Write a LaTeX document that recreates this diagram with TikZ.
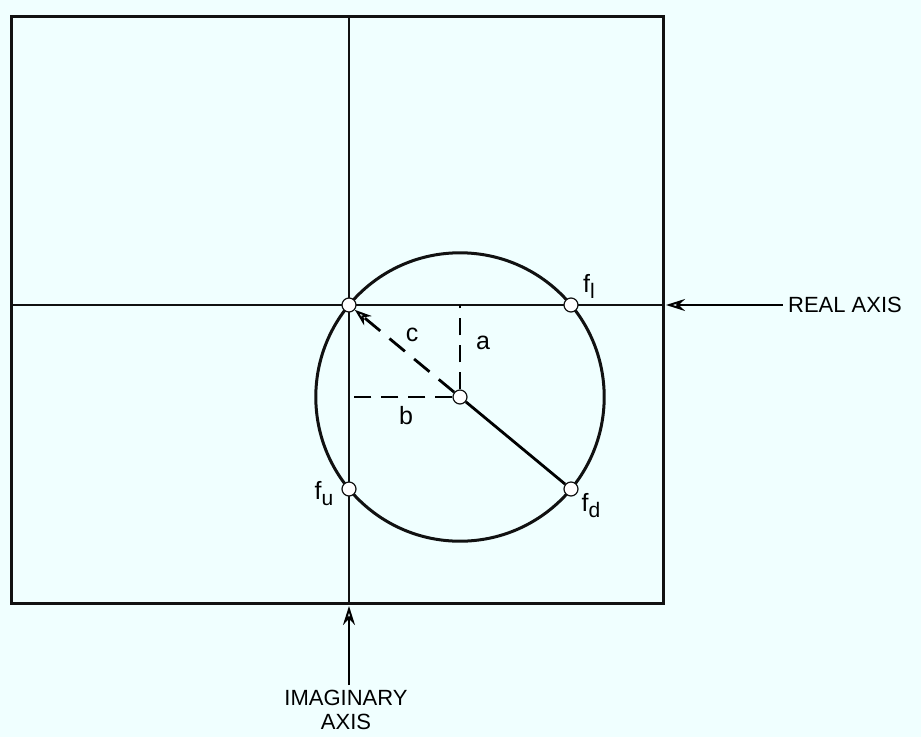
\documentclass[tikz,border=0pt]{standalone}
\usepackage{fontspec}
\setmainfont{Liberation Sans}
\usepackage{xcolor}
\usepackage{tikz}
\usetikzlibrary{
  arrows.meta,
  positioning,
  calc
}
\definecolor{PaperCyan}{HTML}{F0FFFF}
\definecolor{InkBlack}{HTML}{111111}
\newcommand{\lowsub}[1]{\raisebox{-6pt}{\fontsize{21}{23}\selectfont #1}}
\tikzset{
  frame/.style={
    draw=InkBlack,
    line width=3pt
  },
  axisline/.style={
    draw=InkBlack,
    line width=2.8pt
  },
  locus/.style={
    draw=InkBlack,
    line width=3pt
  },
  point/.style={
    circle,
    draw=InkBlack,
    fill=white,
    line width=1.2pt,
    inner sep=0pt,
    minimum size=14pt
  },
  tag/.style={
    font=\fontsize{25}{28}\selectfont,
    inner sep=1pt
  },
  axislabel/.style={
    font=\fontsize{22}{24}\selectfont,
    align=center,
    inner sep=5pt
  },
  axisarrow/.style={
    -{Stealth[open,length=19pt,width=12pt,line width=2pt]},
    line width=2.8pt
  },
  offset/.style={
    dash pattern=on 17pt off 10pt,
    line width=2.8pt
  },
  radiusline/.style={
    -{Stealth[open,length=17pt,width=12pt,line width=2pt]},
    dash pattern=on 20pt off 12pt,
    line width=2.8pt
  },
  diameter/.style={
    line width=2.8pt
  }
}

\begin{document}
\begin{tikzpicture}[x=1pt,y=-1pt]

  % paper
  \fill[PaperCyan] (0,0) rectangle (921,737);
  \useasboundingbox (0,0) rectangle (921,737);

  \coordinate (origin) at (349,305);
  \coordinate (centre) at (460,397);

  % plane and axes
  \draw[frame] (11,16) rectangle (663,603);
  \draw[axisline] (11,305) -- (663,305);
  \draw[axisline] (349,16) -- (349,603);

  % circle through the origin
  \draw[locus] (centre) circle[radius=144.2pt];

  \node[point] at (origin) (o) {};
  \node[point] at (centre) (c) {};
  \node[point] at (571,305) (fl) {};
  \node[point] at (349,489) (fu) {};
  \node[point] at (571,489) (fd) {};

  \node[tag] at (589,286) (lfl) {f\lowsub{l}};
  \node[tag] at (324,494) (lfu) {f\lowsub{u}};
  \node[tag] at (591,506) (lfd) {f\lowsub{d}};
  \node[tag] at (412,335) (lc) {c};
  \node[tag] at (483,343) (la) {a};
  \node[tag] at (406,416) (lb) {b};

  \draw[offset] (c.north) -- (c |- o);
  \draw[offset] (c.west) -- (o |- c);
  \draw[radiusline] (c) -- (o);
  \draw[diameter] (c) -- (fd);

  % axis names
  \node[axislabel] at (845,305) (real) {REAL AXIS};
  \node[axislabel] at (346,710) (imag) {IMAGINARY\\AXIS};

  \coordinate (realtip) at (666,305);
  \coordinate (imagtip) at (349,606);

  \draw[axisarrow] (real.west) -- (realtip);
  \draw[axisarrow] (imag.north -| imagtip) -- (imagtip);

\end{tikzpicture}
\end{document}
